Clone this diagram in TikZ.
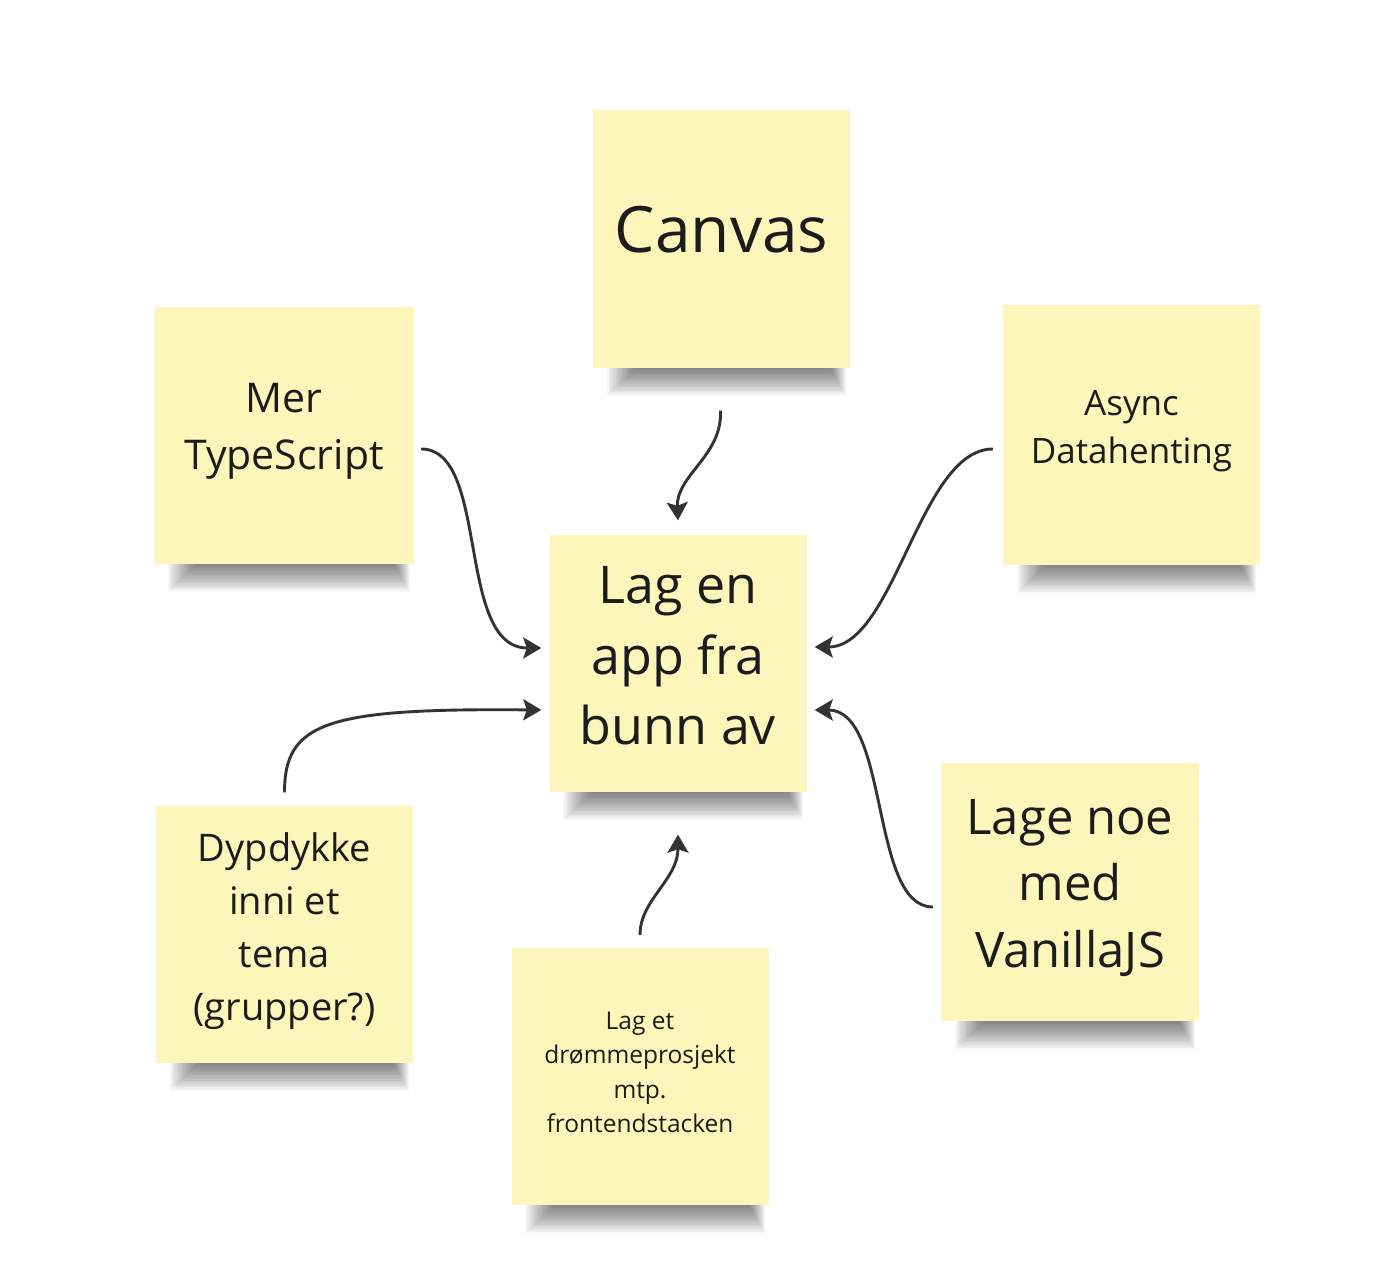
\documentclass[tikz,border=0pt]{standalone}
\usepackage{fontspec}
\setmainfont{Open Sans}
\usetikzlibrary{arrows.meta,calc}
\definecolor{notey}{HTML}{FDF6BB}
\definecolor{ink}{HTML}{1C1C1C}
\definecolor{arrowc}{HTML}{333333}
\pgfdeclarelayer{paper}
\pgfdeclarelayer{bg}
\pgfsetlayers{paper,bg,main}
\tikzset{
  note/.style={fill=notey, draw=none, inner sep=0pt,
    minimum width=257pt, minimum height=257pt},
  notetext/.style={align=center, text=ink, inner sep=0pt},
  link/.style={draw=arrowc, line width=2.9pt,
    -{Stealth[length=18pt,width=21pt,inset=3.5pt]}},
  shadowstep/.style={fill=black, opacity=0.036},
}
\newcommand\noteshadow[1]{%
  \foreach \k in {0,...,15}{%
    \fill[shadowstep] ($(#1.south west)+(14+1.8*\k,-2)$) rectangle ($(#1.south east)+(-4-1.0*\k,28-1.7*\k)$);
  }}
\begin{document}
\begin{tikzpicture}[x=1pt,y=-1pt]
\begin{pgfonlayer}{paper}
\fill[white] (0,0) rectangle (1382,1284);
\end{pgfonlayer}
\useasboundingbox (0,0) rectangle (1382,1284);

\node[note, label={[notetext, yshift=9pt, font=\fontsize{64pt}{88pt}\selectfont]center:Canvas}] (canvas) at (721.5,239) {};
\node[note, minimum width=260pt, label={[notetext, yshift=4pt, font=\fontsize{41pt}{57pt}\selectfont]center:Mer\\TypeScript}] (mer) at (284,435) {};
\node[note, minimum height=260pt, label={[notetext, yshift=4pt, font=\fontsize{35pt}{48pt}\selectfont]center:Async\\Datahenting}] (async) at (1131.5,435) {};
\node[note, label={[notetext, yshift=7pt, font=\fontsize{52pt}{70.5pt}\selectfont]center:Lag en\\app fra\\bunn av}] (main) at (678,663) {};
\node[note, label={[notetext, yshift=2.5pt, font=\fontsize{38pt}{53pt}\selectfont]center:Dypdykke\\inni et\\tema\\(grupper?)}] (dyp) at (284.5,934) {};
\node[note, label={[notetext, yshift=4pt, font=\fontsize{24.5pt}{34.3pt}\selectfont]center:Lag et\\drømmeprosjekt\\mtp.\\frontendstacken}] (drom) at (640,1076.5) {};
\node[note, minimum width=258pt, minimum height=258pt, label={[notetext, yshift=4pt, font=\fontsize{49pt}{66.5pt}\selectfont]center:Lage noe\\med\\VanillaJS}] (vanilla) at (1070,892) {};

\begin{pgfonlayer}{bg}
\noteshadow{canvas}
\noteshadow{mer}
\noteshadow{async}
\noteshadow{main}
\noteshadow{dyp}
\noteshadow{drom}
\noteshadow{vanilla}
\end{pgfonlayer}

% connector end points
\coordinate (canvasOut) at ($(canvas.south)+(-1,43)$);
\coordinate (mainTop) at ($(main.north)+(0,-14)$);
\coordinate (merOut) at ($(mer.east)+(7,14)$);
\coordinate (mainW1) at ($(main.west)+(-8,-15)$);
\coordinate (asyncOut) at ($(async.west)+(-10,14)$);
\coordinate (mainE1) at ($(main.east)+(8,-16)$);
\coordinate (dypOut) at ($(dyp.north)+(0,-13)$);
\coordinate (mainW2) at ($(main.west)+(-8,47)$);
\coordinate (dromOut) at ($(drom.north)+(0,-13)$);
\coordinate (mainBot) at ($(main.south)+(0,43)$);
\coordinate (vanillaOut) at ($(vanilla.west)+(-8,15)$);
\coordinate (mainE2) at ($(main.east)+(8,47)$);

\draw[link] (canvasOut) .. controls ($(canvasOut)+(2,45)$) and ($(mainTop)+(-2,-45)$) .. (mainTop);
\draw[link] (merOut) .. controls ($(merOut)+(69,0)$) and ($(mainW1)+(-86,0)$) .. (mainW1);
\draw[link] (asyncOut) .. controls ($(asyncOut)+(-73,0)$) and ($(mainE1)+(80,0)$) .. (mainE1);
\draw[link] (dypOut) .. controls ($(dypOut)+(0,-70)$) and ($(mainW2)+(-215,-2)$) .. (mainW2);
\draw[link] (dromOut) .. controls ($(dromOut)+(0,-35)$) and ($(mainBot)+(0,45)$) .. (mainBot);
\draw[link] (vanillaOut) .. controls ($(vanillaOut)+(-63,0)$) and ($(mainE2)+(75,0)$) .. (mainE2);
\end{tikzpicture}
\end{document}
